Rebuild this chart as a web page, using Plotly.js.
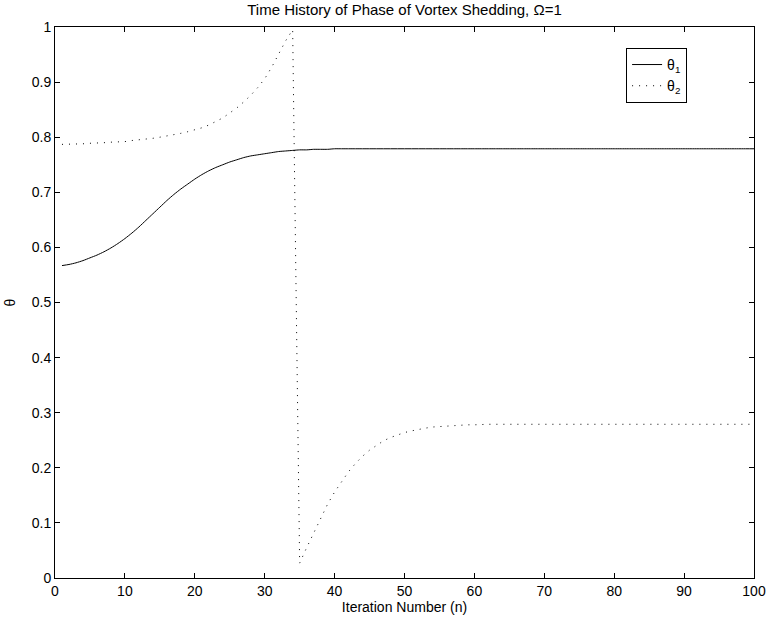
<!DOCTYPE html>
<html>
<head>
<meta charset="utf-8">
<script src="https://cdn.plot.ly/plotly-3.0.1.min.js"></script>
<style>
  html, body { margin: 0; padding: 0; background: #fff; }
  #chart { width: 769px; height: 623px; }
</style>
</head>
<body>
<div id="chart"></div>
<script>
// Iteration numbers n = 1..100
const iterations = [
  1, 2, 3, 4, 5, 6, 7, 8, 9, 10,
  11, 12, 13, 14, 15, 16, 17, 18, 19, 20,
  21, 22, 23, 24, 25, 26, 27, 28, 29, 30,
  31, 32, 33, 34, 35, 36, 37, 38, 39, 40,
  41, 42, 43, 44, 45, 46, 47, 48, 49, 50,
  51, 52, 53, 54, 55, 56, 57, 58, 59, 60,
  61, 62, 63, 64, 65, 66, 67, 68, 69, 70,
  71, 72, 73, 74, 75, 76, 77, 78, 79, 80,
  81, 82, 83, 84, 85, 86, 87, 88, 89, 90,
  91, 92, 93, 94, 95, 96, 97, 98, 99, 100
];

// Phase of the first vortex, theta_1
const theta1 = [
  0.567, 0.569, 0.572, 0.576, 0.581, 0.586, 0.592, 0.599, 0.607, 0.616,
  0.626, 0.637, 0.649, 0.661, 0.673, 0.685, 0.696, 0.706, 0.715, 0.724,
  0.732, 0.739, 0.745, 0.750, 0.755, 0.759, 0.763, 0.766, 0.768, 0.770,
  0.772, 0.774, 0.775, 0.776, 0.777, 0.777, 0.778, 0.778, 0.778, 0.779,
  0.779, 0.779, 0.779, 0.779, 0.779, 0.779, 0.779, 0.779, 0.779, 0.779,
  0.779, 0.779, 0.779, 0.779, 0.779, 0.779, 0.779, 0.779, 0.779, 0.779,
  0.779, 0.779, 0.779, 0.779, 0.779, 0.779, 0.779, 0.779, 0.779, 0.779,
  0.779, 0.779, 0.779, 0.779, 0.779, 0.779, 0.779, 0.779, 0.779, 0.779,
  0.779, 0.779, 0.779, 0.779, 0.779, 0.779, 0.779, 0.779, 0.779, 0.779,
  0.779, 0.779, 0.779, 0.779, 0.779, 0.779, 0.779, 0.779, 0.779, 0.779
];

// Phase of the second vortex, theta_2 (wraps past 1 at n = 35)
const theta2 = [
  0.787, 0.787, 0.788, 0.788, 0.789, 0.789, 0.790, 0.791, 0.791, 0.792,
  0.794, 0.795, 0.797, 0.798, 0.800, 0.802, 0.804, 0.807, 0.810, 0.813,
  0.817, 0.822, 0.828, 0.835, 0.844, 0.853, 0.864, 0.876, 0.890, 0.906,
  0.927, 0.950, 0.975, 0.995, 0.027, 0.055, 0.082, 0.110, 0.134, 0.156,
  0.175, 0.193, 0.208, 0.221, 0.232, 0.241, 0.249, 0.255, 0.260, 0.264,
  0.267, 0.270, 0.272, 0.274, 0.275, 0.276, 0.277, 0.277, 0.278, 0.278,
  0.279, 0.279, 0.279, 0.279, 0.279, 0.279, 0.279, 0.279, 0.279, 0.279,
  0.279, 0.279, 0.279, 0.279, 0.279, 0.279, 0.279, 0.279, 0.279, 0.279,
  0.279, 0.279, 0.279, 0.279, 0.279, 0.279, 0.279, 0.279, 0.279, 0.279,
  0.279, 0.279, 0.279, 0.279, 0.279, 0.279, 0.279, 0.279, 0.279, 0.279
];

const seriesNames = ['θ<sub>1</sub>', 'θ<sub>2</sub>'];
const titleText = 'Time History of Phase of Vortex Shedding, Ω=1';
const xTitle = 'Iteration Number (n)';
const yTitle = 'θ';

const font = { family: 'Liberation Sans, Arial, sans-serif', size: 14, color: '#000' };
const titleFont = { family: 'Liberation Sans, Arial, sans-serif', size: 15, color: '#000' };

const traces = [
  {
    x: iterations, y: theta1, name: seriesNames[0],
    type: 'scatter', mode: 'lines',
    line: { color: '#000', width: 1, shape: 'spline', smoothing: 0.6 }
  },
  {
    x: iterations, y: theta2, name: seriesNames[1],
    type: 'scatter', mode: 'lines',
    line: { color: '#000', width: 1, dash: '1px,6px' }
  }
];

const axisCommon = {
  showline: true, linecolor: '#000', linewidth: 1, mirror: 'ticks',
  ticks: 'inside', ticklen: 5, tickcolor: '#000', tickwidth: 1,
  showgrid: false, zeroline: false, tickfont: font
};

const layout = {
  width: 769, height: 623,
  margin: { l: 55, r: 15, t: 27, b: 45 },
  paper_bgcolor: '#fff', plot_bgcolor: '#fff',
  font: font,
  title: {
    text: titleText, font: titleFont,
    xref: 'paper', x: 0.5, xanchor: 'center',
    yref: 'container', y: 1 - 10 / 623, yanchor: 'middle'
  },
  xaxis: Object.assign({}, axisCommon, {
    range: [0, 100], tickvals: [0, 10, 20, 30, 40, 50, 60, 70, 80, 90, 100],
    title: { text: xTitle, font: font, standoff: 4 }
  }),
  yaxis: Object.assign({}, axisCommon, {
    range: [0, 1], tickvals: [0, 0.1, 0.2, 0.3, 0.4, 0.5, 0.6, 0.7, 0.8, 0.9, 1],
    ticktext: ['0', '0.1', '0.2', '0.3', '0.4', '0.5', '0.6', '0.7', '0.8', '0.9', '1'],
    title: { text: yTitle, font: font, standoff: 12 }
  }),
  showlegend: true,
  legend: {
    x: 0.817, y: 0.962, xanchor: 'left', yanchor: 'top',
    bgcolor: '#fff', bordercolor: '#000', borderwidth: 1,
    font: font, itemwidth: 30, tracegroupgap: 0
  }
};

Plotly.newPlot('chart', traces, layout, { displayModeBar: false, staticPlot: true });
</script>
</body>
</html>
